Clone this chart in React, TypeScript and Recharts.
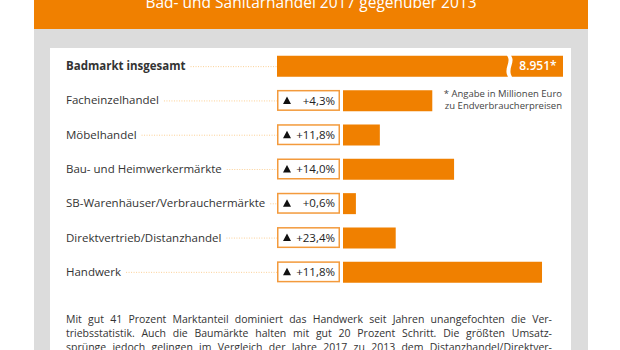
import { BarChart, Bar, XAxis, YAxis } from 'recharts';

// Umsatz 2017 in Mio. Euro (Endverbraucherpreise), Veränderung ggü. 2013
const categories = [
    'Badmarkt insgesamt',
    'Facheinzelhandel',
    'Möbelhandel',
    'Bau- und Heimwerkermärkte',
    'SB-Warenhäuser/Verbrauchermärkte',
    'Direktvertrieb/Distanzhandel',
    'Handwerk'
];
const revenue = [8951, 1660, 685, 2065, 240, 980, 3700];
const growth = ['', '+4,3%', '+11,8%', '+14,0%', '+0,6%', '+23,4%', '+11,8%'];
const totalLabel = '8.951*';

const title = 'Bad- und Sanitärhandel 2017 gegenüber 2013';
const footnote = ['* Angabe in Millionen Euro', 'zu Endverbraucherpreisen'];
const paragraph = [
    'Mit gut 41 Prozent Marktanteil dominiert das Handwerk seit Jahren unangefochten die Ver-',
    'triebsstatistik. Auch die Baumärkte halten mit gut 20 Prozent Schritt. Die größten Umsatz-',
    'sprünge jedoch gelingen im Vergleich der Jahre 2017 zu 2013 dem Distanzhandel/Direktver-'
];

const ORANGE = '#f08000';
const FONT = '"Open Sans", sans-serif';

// the total row is a broken bar (not to scale), so it is drawn by the tick
const chartData = categories.map((name, i) => ({
    name,
    value: i === 0 ? null : revenue[i],
    growth: growth[i]
}));

const LABEL_X = 66;
const BOX_X = 277;
const BOX_W = 63;
const BAR_H = 21;
const PLOT_RIGHT = 563;

let ctx: CanvasRenderingContext2D | null = null;
function measure(text: string, font: string) {
    if (!ctx) ctx = document.createElement('canvas').getContext('2d');
    if (!ctx) return text.length * 6;
    ctx.font = font;
    return ctx.measureText(text).width;
}

function RowTick(props: any) {
    const { y, payload } = props;
    const idx = payload.index ?? categories.indexOf(payload.value);
    const isTotal = idx === 0;
    const weight = isTotal ? 700 : 400;
    const labelW = measure(payload.value, `${weight} 11.5px "Open Sans"`);
    const top = y - BAR_H / 2;
    const bottom = y + BAR_H / 2;
    const breakX = 507;
    return (
        <g>
            <text x={LABEL_X} y={y} dy="0.35em" fontSize={11.5} fontWeight={weight} fill="#333" fontFamily={FONT}>
                {payload.value}
            </text>
            <line
                x1={LABEL_X + labelW + 5}
                x2={BOX_X}
                y1={y + 0.5}
                y2={y + 0.5}
                stroke="#fbcf94"
                strokeWidth={1}
                strokeDasharray="1 1.5"
            />
            {isTotal ? (
                <g>
                    <path
                        d={`M${BOX_X},${top} H${breakX} C${breakX + 5},${top + 6} ${breakX - 4},${top + 13} ${breakX + 1},${bottom} H${BOX_X} Z`}
                        fill={ORANGE}
                    />
                    <path
                        d={`M${breakX + 4},${top} H${PLOT_RIGHT} V${bottom} H${breakX + 5} C${breakX},${top + 13} ${breakX + 9},${top + 6} ${breakX + 4},${top} Z`}
                        fill={ORANGE}
                    />
                    <text x={(breakX + PLOT_RIGHT) / 2 + 3} y={y} dy="0.36em" textAnchor="middle" fontSize={12} fontWeight={600} fill="#fff" fontFamily={FONT}>
                        {totalLabel}
                    </text>
                </g>
            ) : (
                <g>
                    <rect x={BOX_X + 0.75} y={top + 0.75} width={BOX_W - 1.5} height={BAR_H - 1.5} fill="#fff" stroke="#f39a3c" strokeWidth={1.5} />
                    <polygon points={`${BOX_X + 6},${y + 3.5} ${BOX_X + 14},${y + 3.5} ${BOX_X + 10},${y - 4}`} fill="#111" />
                    <text x={BOX_X + BOX_W - 5} y={y} dy="0.36em" textAnchor="end" fontSize={11.5} fill="#222" fontFamily={FONT}>
                        {chartData[idx].growth}
                    </text>
                </g>
            )}
        </g>
    );
}

export default function App() {
    return (
        <div style={{ position: 'absolute', left: 0, top: 0, width: 620, height: 350, overflow: 'hidden', background: '#fff', fontFamily: FONT }}>
            {/* frame */}
            <div style={{ position: 'absolute', left: 34, top: 0, width: 554, height: 350, background: '#dcdcdc' }} />
            <div style={{ position: 'absolute', left: 34, top: 0, width: 554, height: 29, background: ORANGE }} />
            <div style={{ position: 'absolute', left: 34, top: -9, width: 554, textAlign: 'center', color: '#fff', fontSize: 15.5, lineHeight: '22px' }}>
                {title}
            </div>
            <div style={{ position: 'absolute', left: 50, top: 48, width: 521, height: 302, background: '#fff' }} />

            <div style={{ position: 'absolute', left: 0, top: 0 }}>
                <BarChart
                    width={620}
                    height={350}
                    data={chartData}
                    layout="vertical"
                    margin={{ top: 49, right: 620 - PLOT_RIGHT, bottom: 61, left: 0 }}
                    barCategoryGap={0}
                >
                    <XAxis type="number" hide domain={[0, 4090]} />
                    <YAxis
                        type="category"
                        dataKey="name"
                        width={343}
                        axisLine={false}
                        tickLine={false}
                        interval={0}
                        tick={<RowTick />}
                    />
                    <Bar dataKey="value" fill={ORANGE} barSize={BAR_H} isAnimationActive={false} />
                    <text x={PLOT_RIGHT - 1} y={97} textAnchor="end" fontSize={9.5} fill="#444" fontFamily={FONT}>
                        {footnote[0]}
                    </text>
                    <text x={PLOT_RIGHT - 1} y={109} textAnchor="end" fontSize={9.5} fill="#444" fontFamily={FONT}>
                        {footnote[1]}
                    </text>
                </BarChart>
            </div>

            <div style={{ position: 'absolute', left: 66, top: 312, width: 486, fontSize: 10.5, lineHeight: '14.2px', color: '#333' }}>
                {paragraph.map((line, i) => (
                    <div key={i} style={{ textAlign: 'justify', textAlignLast: 'justify', whiteSpace: 'nowrap' }}>
                        {line}
                    </div>
                ))}
            </div>
        </div>
    );
}
